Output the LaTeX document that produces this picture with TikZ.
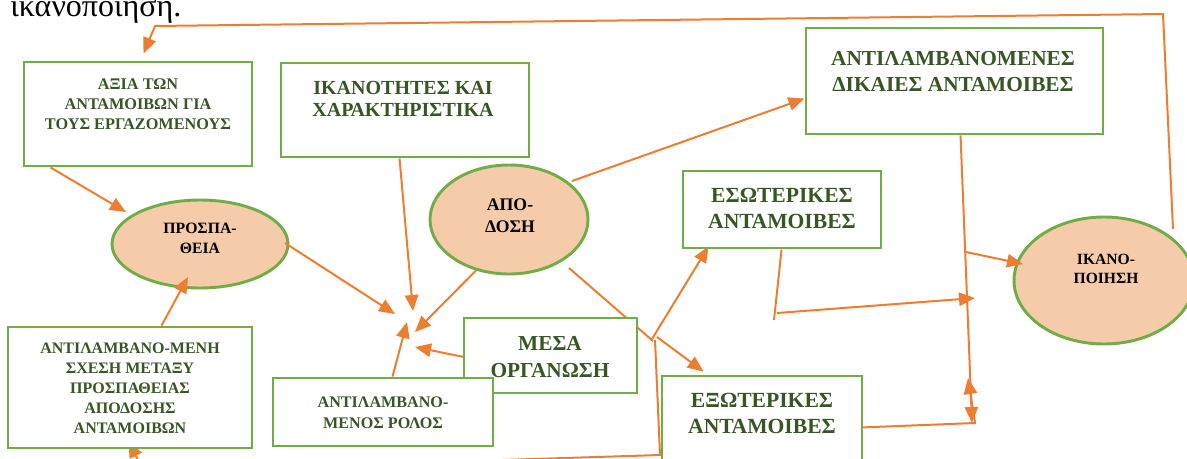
\documentclass[tikz,border=0pt]{standalone}
\usepackage{fontspec}
\setmainfont{Liberation Serif}
\usetikzlibrary{shapes.geometric,arrows.meta,fit}
\definecolor{boxgreen}{HTML}{70AD47}
\definecolor{txtgreen}{HTML}{375623}
\definecolor{ellfill}{HTML}{F6CBAA}
\definecolor{conorange}{HTML}{ED7D31}
\pgfdeclarelayer{back}
\pgfdeclarelayer{mid}
\pgfsetlayers{back,mid,main}
\newcommand\myfs[2]{\fontsize{#1}{#2}\selectfont}
\begin{document}
\begin{tikzpicture}[x=0.75pt,y=-0.75pt,
  box/.style={draw=boxgreen, line width=2.2pt, fill=white, inner sep=0pt},
  ell/.style={ellipse, draw=boxgreen, line width=2.2pt, fill=ellfill, inner sep=0pt},
  btxt/.style={text=txtgreen, align=center, inner sep=0pt},
  etxt/.style={text=black, align=center, inner sep=0pt},
  conn/.style={draw=conorange, line width=1.5pt},
  arr/.style={conn, -{Triangle[length=12pt,width=10pt]}}]
\useasboundingbox (0,0) rectangle (1187,458);

% caption fragment
\node[anchor=base west, inner sep=0pt, font=\myfs{24pt}{28pt}] (cap) at (10,16) {ικανοποιηση.};

% ellipses
\begin{pgfonlayer}{back}
\node[ell, minimum width=132pt, minimum height=66pt] (pros) at (200,244) {};
\node[ell, minimum width=118.5pt, minimum height=81.75pt] (apo) at (509,219.5) {};
\node[ell, minimum width=135pt, minimum height=95.25pt] (ikan) at (1104,280.5) {};
\end{pgfonlayer}

% boxes
\node[box, fit={(24,62) (252,166)}] (b1) {};
\node[box, fit={(281,63) (529,157)}] (b2) {};
\node[box, fit={(806,28) (1103,134)}] (b12) {};
\node[box, fit={(683,171) (881,248)}] (b10) {};
\node[box, fit={(662,376) (862,478)}] (b11) {};
\node[box, fit={(464,318) (637,393)}] (b8) {};
\node[box, fit={(273,378) (493,446)}] (b7) {};
\node[box, fit={(8,327) (252,448)}] (b6) {};

% texts
\node[btxt, font=\bfseries\myfs{12.2pt}{15pt}] (b1t) at (138,104) {ΑΞΙΑ ΤΩΝ\\ΑΝΤΑΜΟΙΒΩΝ ΓΙΑ\\ΤΟΥΣ ΕΡΓΑΖΟΜΕΝΟΥΣ};
\node[btxt, font=\bfseries\myfs{15pt}{16.5pt}] (b2t) at (403,98.7) {ΙΚΑΝΟΤΗΤΕΣ ΚΑΙ\\ΧΑΡΑΚΤΗΡΙΣΤΙΚΑ};
\node[btxt, font=\bfseries\myfs{16pt}{19.5pt}] (b12t) at (953,71.5) {ΑΝΤΙΛΑΜΒΑΝΟΜΕΝΕΣ\\ΔΙΚΑΙΕΣ ΑΝΤΑΜΟΙΒΕΣ};
\node[btxt, font=\bfseries\myfs{16.2pt}{19.5pt}] (b10t) at (782,208) {ΕΣΩΤΕΡΙΚΕΣ\\ΑΝΤΑΜΟΙΒΕΣ};
\node[btxt, font=\bfseries\myfs{16.2pt}{19.5pt}] (b11t) at (762,413) {ΕΞΩΤΕΡΙΚΕΣ\\ΑΝΤΑΜΟΙΒΕΣ};
\node[btxt, font=\bfseries\myfs{16pt}{20.25pt}] (b8t) at (550,357) {ΜΕΣΑ\\ΟΡΓΑΝΩΣΗ};
\node[btxt, font=\bfseries\myfs{12.1pt}{15.75pt}] (b7t) at (383,412.5) {ΑΝΤΙΛΑΜΒΑΝΟ-\\ΜΕΝΟΣ ΡΟΛΟΣ};
\node[btxt, font=\bfseries\myfs{12pt}{15pt}] (b6t) at (130,388) {ΑΝΤΙΛΑΜΒΑΝΟ-ΜΕΝΗ\\ΣΧΕΣΗ ΜΕΤΑΞΥ\\ΠΡΟΣΠΑΘΕΙΑΣ\\ΑΠΟΔΟΣΗΣ\\ΑΝΤΑΜΟΙΒΩΝ};
\node[etxt, font=\bfseries\myfs{11.8pt}{15pt}] (prost) at (200,238) {ΠΡΟΣΠΑ-\\ΘΕΙΑ};
\node[etxt, font=\bfseries\myfs{13.3pt}{16.5pt}] (apot) at (510,215.5) {ΑΠΟ-\\ΔΟΣΗ};
\node[etxt, font=\bfseries\myfs{11.7pt}{14.25pt}] (ikant) at (1106,269) {ΙΚΑΝΟ-\\ΠΟΙΗΣΗ};

% junctions and free ends
\coordinate (k1) at (1163,14);
\coordinate (k2) at (155,26);
\coordinate (h1) at (395,314);
\coordinate (h2) at (413,311);
\coordinate (h3) at (415,332);
\coordinate (h4) at (407,322);
\coordinate (h5) at (415,347);
\coordinate (jn) at (653,341);
\coordinate (jn1) at (652,339);
\coordinate (jn2) at (657,337);
\coordinate (jn3) at (655,340);
\coordinate (bt1) at (660,455);
\coordinate (bt2) at (470,461);
\coordinate (bt3) at (140,464);
\coordinate (e1) at (774,320);
\coordinate (e2) at (777,313);
\coordinate (s1) at (975,298);
\coordinate (v1) at (972,423);
\coordinate (v2) at (966,252);
\coordinate (x1) at (975,423);
\coordinate (x2) at (968,378);

\begin{pgfonlayer}{mid}
\draw[arr] ([shift={(69,-51.5)}]ikan.center) -- (k1) -- (k2) -- ([shift={(121,-7)}]b1.north west);
\draw[arr] ([shift={(28,0)}]b1.south west) -- ([shift={(-74,-32)}]pros.center);
\draw[arr] ([shift={(155,0)}]b6.north west) -- ([shift={(-12,33)}]pros.center);
\draw[arr] (bt3) -- ([shift={(122,-8)}]b6.south west);
\draw[arr] ([shift={(85,-1)}]pros.center) -- (h1);
\draw[arr] ([shift={(120,0)}]b2.south west) -- (h2);
\draw[arr] ([shift={(-33,51)}]apo.center) -- (h3);
\draw[arr] ([shift={(121,0)}]b7.north west) -- (h4);
\draw[arr] ([shift={(4,41)}]b8.north west) -- (h5);
\draw[arr] ([shift={(63,-38.5)}]apo.center) -- ([shift={(0,72)}]b12.north west);
\draw[conn] ([shift={(60,48.5)}]apo.center) -- (jn);
\draw[arr] (jn1) -- ([shift={(27,-3)}]b10.south west);
\draw[arr] (jn2) -- ([shift={(43,-3)}]b11.north west);
\draw[conn] (jn3) -- (bt1) -- (bt2);
\draw[conn] ([shift={(100,0)}]b10.south west) -- (e1);
\draw[arr] (e2) -- (s1);
\draw[arr] ([shift={(156,0)}]b12.south west) -- (v1);
\draw[arr] (v2) -- ([shift={(-81,-16.5)}]ikan.center);
\draw[arr] ([shift={(-4,53)}]b11.north east) -- (x1) -- (x2);
\end{pgfonlayer}
\end{tikzpicture}
\end{document}
